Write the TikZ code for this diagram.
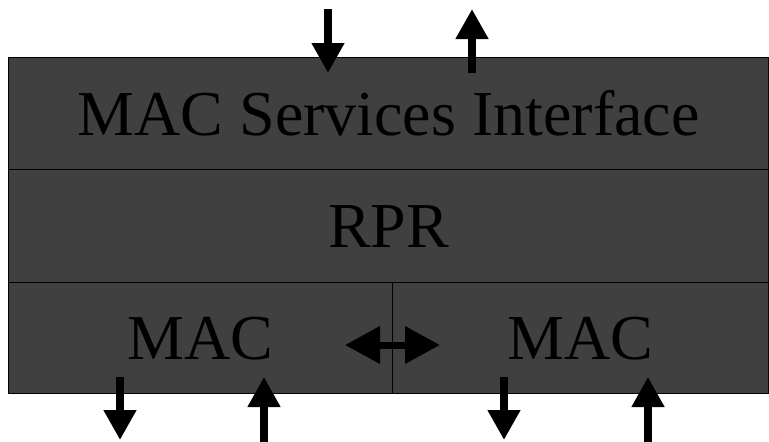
\documentclass[tikz,border=0pt]{standalone}
\usepackage{fontspec}
\setmainfont{Liberation Serif}
\usetikzlibrary{arrows.meta}
\definecolor{cellgray}{HTML}{404040}
\begin{document}
\begin{tikzpicture}[x=1pt,y=-1pt,
  cell/.style={draw=black,line width=1.3pt,fill=cellgray,inner sep=0pt,anchor=north west,
    font=\fontsize{64}{70}\selectfont,text=black},
  bigarrow/.style={line width=8pt,-{Triangle[width=31pt,length=30pt]}},
  duoarrow/.style={line width=7pt,{Triangle[width=36pt,length=35pt]}-{Triangle[width=36pt,length=35pt]}}]
\useasboundingbox (0,0) rectangle (769,442);
\node[cell,minimum width=760pt,minimum height=112pt] (msi) at (8,57) {MAC Services Interface};
\node[cell,minimum width=760pt,minimum height=113pt] (rpr) at (8,169) {RPR};
\node[cell,minimum width=384pt,minimum height=111pt] (macl) at (8,282) {MAC};
\node[cell,minimum width=376pt,minimum height=111pt] (macr) at (392,282) {MAC};
% top arrows
\coordinate (tda) at (328,9);
\coordinate (tdb) at (328,73);
\coordinate (tua) at (472,73);
\coordinate (tub) at (472,9);
\draw[bigarrow] (tda) -- (tdb);
\draw[bigarrow] (tua) -- (tub);
% bottom arrows
\coordinate (lda) at (120,377);
\coordinate (ldb) at (120,440);
\coordinate (lua) at (264,442);
\coordinate (lub) at (264,377);
\coordinate (rda) at (504,377);
\coordinate (rdb) at (504,440);
\coordinate (rua) at (648,442);
\coordinate (rub) at (648,377);
\draw[bigarrow] (lda) -- (ldb);
\draw[bigarrow] (lua) -- (lub);
\draw[bigarrow] (rda) -- (rdb);
\draw[bigarrow] (rua) -- (rub);
% middle double arrow
\coordinate (ma) at (345,345);
\coordinate (mb) at (440,345);
\draw[duoarrow] (ma) -- (mb);
\end{tikzpicture}
\end{document}
